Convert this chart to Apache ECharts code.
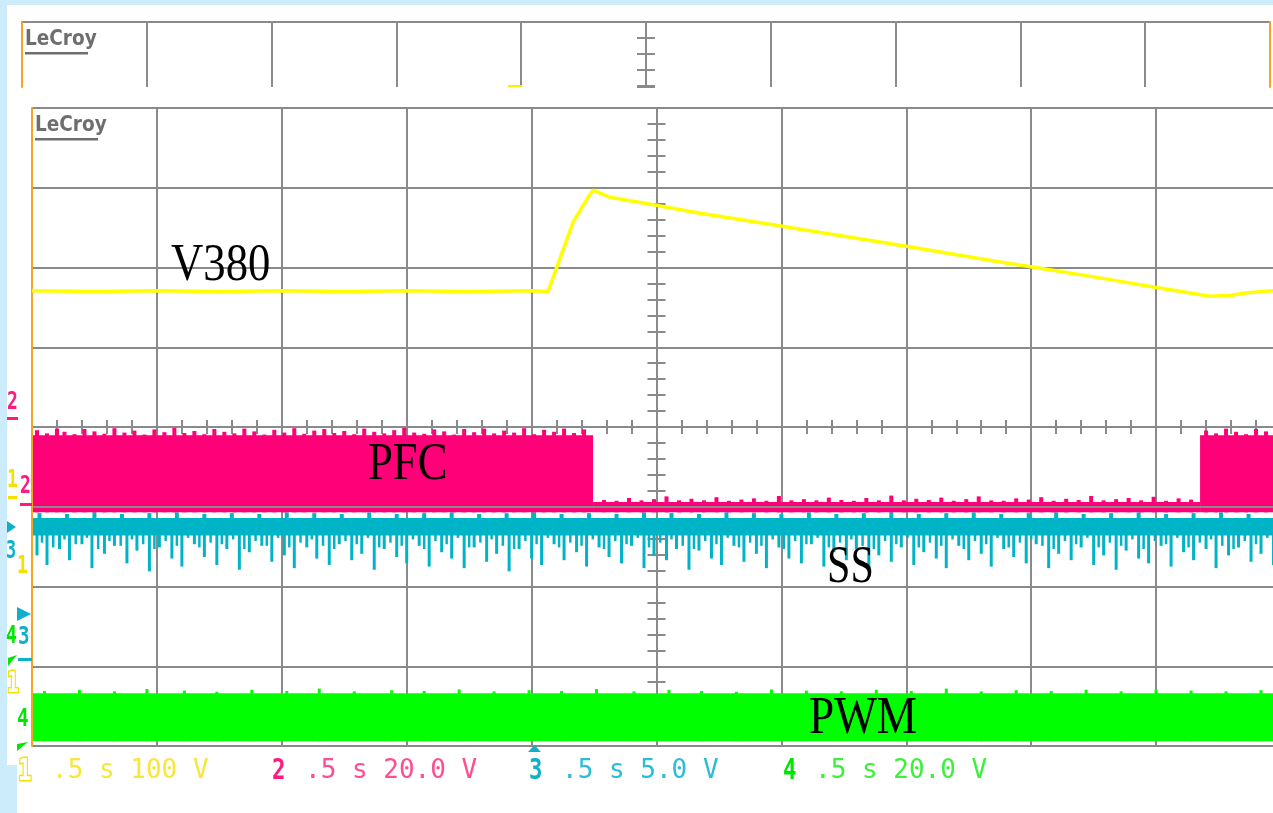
<!DOCTYPE html>
<html>
<head>
<meta charset="utf-8">
<script src="https://cdn.jsdelivr.net/npm/echarts@6/dist/echarts.min.js"></script>
<style>
  html, body { margin: 0; padding: 0; width: 1273px; height: 813px; overflow: hidden; background: #ccecfc; }
  .sheet { position: absolute; background: #ffffff; }
  #chart { position: absolute; left: 0; top: 0; width: 1290px; height: 813px; }
</style>
</head>
<body>
<div class="sheet" style="left:7px;top:5px;width:1266px;height:760px"></div>
<div class="sheet" style="left:17px;top:765px;width:1256px;height:48px"></div>
<div id="chart"></div>
<script>
// ---- scope settings ----
const timePerDiv = 0.5;                    // s/div
const channelIds = ['1', '2', '3', '4'];
const voltsPerDiv = [100, 20, 5, 20];      // V/div per channel
const groundDiv = [-2.1, -1.07, -2.65, -3.94]; // ground marker, divisions from centre
const traceLabels = ['V380', 'PFC', 'SS', 'PWM'];

// ---- channel 1: V380 bus voltage (s, V) ----
const v380Time = [0, 0.25, 0.5, 0.75, 1.0, 1.25, 1.5, 1.75, 2.0, 2.066, 2.102, 2.166, 2.226, 2.246,
  2.314, 2.498, 2.674, 2.998, 3.075, 3.475, 3.875, 3.999, 4.275, 4.5, 4.636, 4.716, 4.796, 4.856, 4.968, 5.0];
const v380Volts = [381, 380, 381, 380, 381, 380, 381, 380, 381, 380, 411, 467, 498, 507,
  498, 488, 478, 462, 458, 438, 417, 411, 397, 385, 378, 374, 375, 378, 381, 381];

// ---- channel 2: PFC gate drive, switching envelope [tStart, tEnd, Vlow, Vhigh] ----
const pfcLevels = [[0, 2.246, 0, 19.3], [2.246, 4.676, 0, 2.6], [4.676, 5, 0, 19.3]];
// peaks above the envelope [t, V]
const pfcSpikes = [
  [0.02,20.6],[0.06,19.8],[0.10,21.0],[0.13,20.2],[0.17,19.6],[0.21,20.9],[0.25,20.3],[0.29,19.7],
  [0.33,21.1],[0.37,20.0],[0.41,20.5],[0.45,19.5],[0.49,20.8],[0.53,20.1],[0.57,21.2],[0.61,19.9],
  [0.65,20.4],[0.69,19.6],[0.73,20.9],[0.77,20.2],[0.81,19.8],[0.85,21.0],[0.89,20.3],[0.93,19.5],
  [0.97,20.7],[1.01,20.0],[1.05,21.1],[1.09,19.7],[1.13,20.5],[1.17,20.9],[1.21,19.9],[1.25,20.4],
  [1.29,19.6],[1.33,21.0],[1.37,20.2],[1.41,19.8],[1.45,20.6],[1.49,21.2],[1.53,20.0],[1.57,19.7],
  [1.61,20.8],[1.65,20.3],[1.69,19.5],[1.73,20.9],[1.77,20.1],[1.81,21.0],[1.85,19.8],[1.89,20.5],
  [1.93,20.0],[1.97,21.1],[2.01,19.6],[2.05,20.7],[2.09,20.2],[2.13,21.0],[2.17,19.9],[2.21,20.8],
  [2.29,3.1],[2.34,2.9],[2.39,3.6],[2.44,3.0],[2.49,3.3],[2.54,4.0],[2.59,3.0],[2.64,3.4],
  [2.69,3.0],[2.74,3.8],[2.79,2.9],[2.84,3.2],[2.89,3.5],[2.94,2.9],[2.99,4.1],[3.04,3.0],
  [3.09,3.3],[3.14,3.0],[3.19,3.7],[3.24,3.1],[3.29,2.9],[3.34,3.6],[3.39,3.0],[3.44,4.2],
  [3.49,3.0],[3.54,3.4],[3.59,3.1],[3.64,3.7],[3.69,2.9],[3.74,3.3],[3.79,4.0],[3.84,3.0],
  [3.89,2.9],[3.94,3.5],[3.99,3.2],[4.04,3.8],[4.09,2.9],[4.14,3.4],[4.19,3.1],[4.24,4.1],
  [4.29,3.0],[4.34,3.3],[4.39,3.6],[4.44,3.0],[4.49,3.9],[4.54,2.9],[4.59,3.5],[4.64,3.2],
  [4.70,20.5],[4.74,19.8],[4.78,21.0],[4.82,20.2],[4.86,19.6],[4.90,20.9],[4.94,20.3],[4.98,19.9]
];

// ---- channel 3: SS pin, noise band, upward jags and downward glitches ----
const ssLevels = [[0, 5, 6.45, 7.55]];
const ssUpJags = [
  [0.03,7.85],[0.14,7.8],[0.25,7.9],[0.36,7.8],[0.47,7.85],[0.58,7.9],[0.69,7.8],[0.80,7.85],
  [0.91,7.8],[1.02,7.9],[1.13,7.85],[1.24,7.8],[1.35,7.9],[1.46,7.8],[1.57,7.85],[1.68,7.9],
  [1.79,7.8],[1.90,7.85],[2.01,7.9],[2.12,7.8],[2.23,7.85],[2.34,7.8],[2.45,7.9],[2.56,7.85],
  [2.67,7.8],[2.78,7.9],[2.89,7.85],[3.00,7.8],[3.11,7.9],[3.22,7.8],[3.33,7.85],[3.44,7.9],
  [3.55,7.8],[3.66,7.85],[3.77,7.9],[3.88,7.8],[3.99,7.85],[4.10,7.9],[4.21,7.8],[4.32,7.85],
  [4.43,7.9],[4.54,7.8],[4.65,7.85],[4.76,7.9],[4.87,7.8],[4.98,7.85]
];
const ssSpikes = [
  [0.02,5.2],[0.06,4.6],[0.11,5.6],[0.15,4.9],[0.20,5.9],[0.24,4.4],[0.29,5.3],[0.33,5.8],[0.38,4.7],
  [0.42,5.5],[0.47,4.2],[0.51,5.7],[0.56,5.0],[0.60,4.5],[0.65,5.9],[0.69,5.1],[0.74,4.6],[0.78,5.6],
  [0.83,4.3],[0.87,5.4],[0.92,5.8],[0.96,4.8],[1.01,5.2],[1.05,4.4],[1.10,5.7],[1.14,5.0],[1.19,4.6],
  [1.23,5.9],[1.28,4.9],[1.32,5.3],[1.37,4.3],[1.41,5.6],[1.46,5.1],[1.50,4.7],[1.55,5.8],[1.59,4.5],
  [1.64,5.4],[1.68,5.0],[1.73,4.4],[1.77,5.7],[1.82,4.8],[1.86,5.3],[1.91,4.2],[1.95,5.6],[2.00,5.0],
  [2.04,4.6],[2.09,5.9],[2.13,4.9],[2.18,5.4],[2.22,4.5],[2.27,5.7],[2.31,5.1],[2.36,4.7],[2.40,5.8],
  [2.45,4.4],[2.49,5.2],[2.54,4.9],[2.58,5.6],[2.63,4.3],[2.67,5.5],[2.72,5.0],[2.76,4.6],[2.81,5.8],
  [2.85,4.8],[2.90,5.3],[2.94,4.4],[2.99,5.7],[3.03,5.0],[3.08,4.7],[3.12,5.9],[3.17,4.5],[3.21,5.4],
  [3.26,4.9],[3.30,5.6],[3.35,4.3],[3.39,5.2],[3.44,4.8],[3.48,5.7],[3.53,4.6],[3.57,5.4],[3.62,5.0],
  [3.66,4.4],[3.71,5.8],[3.75,4.9],[3.80,5.3],[3.84,4.5],[3.89,5.6],[3.93,5.1],[3.98,4.7],[4.02,5.9],
  [4.07,4.4],[4.11,5.3],[4.16,4.9],[4.20,5.7],[4.25,4.6],[4.29,5.2],[4.34,4.3],[4.38,5.5],[4.43,5.0],
  [4.47,4.7],[4.52,5.8],[4.56,4.5],[4.61,5.4],[4.65,4.9],[4.70,5.6],[4.74,4.4],[4.79,5.2],[4.83,5.7],
  [4.88,4.8],[4.92,5.3],[4.97,4.6]
];
const ssShortGlitches = [
  [0.04,6.0],[0.085,5.7],[0.13,6.2],[0.175,5.9],[0.22,6.3],[0.265,5.6],[0.31,6.1],[0.355,5.8],
  [0.40,6.2],[0.445,5.9],[0.49,5.6],[0.535,6.1],[0.58,5.8],[0.625,6.3],[0.67,5.7],[0.715,6.0],
  [0.76,5.9],[0.805,6.2],[0.85,5.6],[0.895,6.1],[0.94,5.8],[0.985,6.3],[1.03,5.7],[1.075,6.0],
  [1.12,6.2],[1.165,5.8],[1.21,5.6],[1.255,6.1],[1.30,5.9],[1.345,6.3],[1.39,5.7],[1.435,6.0],
  [1.48,5.8],[1.525,6.2],[1.57,5.6],[1.615,6.1],[1.66,5.9],[1.705,6.3],[1.75,5.7],[1.795,6.0],
  [1.84,6.2],[1.885,5.8],[1.93,5.6],[1.975,6.1],[2.02,5.9],[2.065,6.3],[2.11,5.7],[2.155,6.0],
  [2.20,5.8],[2.245,6.2],[2.29,5.6],[2.335,6.1],[2.38,5.9],[2.425,6.3],[2.47,5.7],[2.515,6.0],
  [2.56,6.2],[2.605,5.8],[2.65,5.6],[2.695,6.1],[2.74,5.9],[2.785,6.3],[2.83,5.7],[2.875,6.0],
  [2.92,5.8],[2.965,6.2],[3.01,5.6],[3.055,6.1],[3.10,5.9],[3.145,6.3],[3.19,5.7],[3.235,6.0],
  [3.28,6.2],[3.325,5.8],[3.37,5.6],[3.415,6.1],[3.46,5.9],[3.505,6.3],[3.55,5.7],[3.595,6.0],
  [3.64,5.8],[3.685,6.2],[3.73,5.6],[3.775,6.1],[3.82,5.9],[3.865,6.3],[3.91,5.7],[3.955,6.0],
  [4.00,6.2],[4.045,5.8],[4.09,5.6],[4.135,6.1],[4.18,5.9],[4.225,6.3],[4.27,5.7],[4.315,6.0],
  [4.36,5.8],[4.405,6.2],[4.45,5.6],[4.495,6.1],[4.54,5.9],[4.585,6.3],[4.63,5.7],[4.675,6.0],
  [4.72,6.2],[4.765,5.8],[4.81,5.6],[4.855,6.1],[4.90,5.9],[4.945,6.3],[4.99,5.7]
];

// ---- channel 4: PWM switching envelope ----
const pwmLevels = [[0, 5, 0, 12.0]];
const pwmSpikes = [
  [0.05,12.6],[0.19,12.9],[0.33,12.5],[0.46,13.1],[0.61,12.7],[0.74,12.4],[0.88,12.9],[1.02,12.6],
  [1.15,13.2],[1.29,12.5],[1.44,12.8],[1.57,12.6],[1.71,13.0],[1.85,12.5],[1.99,12.8],[2.12,12.6],
  [2.26,13.1],[2.41,12.5],[2.55,12.9],[2.68,12.6],[2.82,12.4],[2.96,13.0],[3.10,12.7],[3.24,12.5],
  [3.38,12.9],[3.52,12.6],[3.66,13.2],[3.80,12.5],[3.94,12.8],[4.08,12.6],[4.22,12.9],[4.36,12.5],
  [4.50,13.0],[4.64,12.7],[4.78,12.5],[4.92,12.8]
];

// ---- drawing ----
const DIVS_X = 10, DIVS_Y = 8;
const T_MAX = DIVS_X * timePerDiv;
const GRAY = '#8a8a8a', ORANGE = '#f5a523';
const traceColors = ['#ffff00', '#ff0078', '#00b4c8', '#00ff00'];
const footColors = ['#f8e63a', '#ff4d8f', '#2bbdd6', '#3cf03c'];
const digitColors = ['#f5e000', '#ff1a80', '#0fb0c8', '#00e600'];

const chart = echarts.init(document.getElementById('chart'));

function channelAxis(i) {
  const s = voltsPerDiv[i], g = groundDiv[i];
  return { type: 'value', gridIndex: 0, show: false, min: (-DIVS_Y / 2 - g) * s, max: (DIVS_Y / 2 - g) * s };
}

function bandRender(params, api) {
  const a = api.coord([api.value(0), api.value(3)]);
  const b = api.coord([api.value(1), api.value(2)]);
  return { type: 'rect', shape: { x: a[0], y: a[1], width: b[0] - a[0], height: b[1] - a[1] },
           style: { fill: api.visual('color') } };
}
function spikeRender(base, w) {
  return function (params, api) {
    const a = api.coord([api.value(0), base]);
    const b = api.coord([api.value(0), api.value(1)]);
    return { type: 'rect', shape: { x: a[0] - w / 2, y: Math.min(a[1], b[1]), width: w, height: Math.abs(b[1] - a[1]) },
             style: { fill: api.visual('color') } };
  };
}
function bandSeries(data, yIdx, color) {
  return { type: 'custom', xAxisIndex: 0, yAxisIndex: yIdx, data, renderItem: bandRender,
           encode: { x: [0, 1], y: [2, 3] }, itemStyle: { color }, silent: true, z: 2 };
}
function spikeSeries(data, yIdx, color, base, w) {
  return { type: 'custom', xAxisIndex: 0, yAxisIndex: yIdx, data, renderItem: spikeRender(base, w),
           encode: { x: 0, y: 1 }, itemStyle: { color }, silent: true, z: 2 };
}

const hidden = { axisLabel: { show: false }, axisTick: { show: false }, splitLine: { show: false }, axisLine: { show: false } };
function centreAxis(extra, inside, len, minor) {
  return Object.assign({
    type: 'value', axisLabel: { show: false }, splitLine: { show: false },
    axisLine: { show: true, lineStyle: { color: GRAY, width: 2 } },
    axisTick: { show: true, inside, length: len, lineStyle: { color: GRAY, width: 2 } },
    minorTick: { show: minor, splitNumber: 5, length: len, lineStyle: { color: GRAY, width: 2 } }
  }, extra);
}

const xAxes = [
  // main time axis with vertical graticule
  { type: 'value', gridIndex: 0, min: 0, max: T_MAX, interval: timePerDiv, ...hidden,
    splitLine: { show: true, lineStyle: { color: GRAY, width: 2 } } },
  centreAxis({ gridIndex: 0, min: 0, max: T_MAX, interval: timePerDiv, position: 'bottom', offset: -319 }, true, 7, true),
  centreAxis({ gridIndex: 0, min: 0, max: T_MAX, interval: timePerDiv, position: 'bottom', offset: -319 }, false, 7, true),
  // upper screen graticule
  { type: 'value', gridIndex: 1, min: 0, max: T_MAX, interval: timePerDiv, position: 'top', ...hidden,
    axisLine: { show: true, lineStyle: { color: GRAY, width: 2 } },
    splitLine: { show: true, lineStyle: { color: GRAY, width: 2 } } }
];

const topSpan = 65 / 79.75;
const yAxes = [
  { type: 'value', gridIndex: 0, min: -DIVS_Y / 2, max: DIVS_Y / 2, interval: 1, ...hidden, z: 3,
    axisLine: { show: true, lineStyle: { color: ORANGE, width: 2 } },
    splitLine: { show: true, lineStyle: { color: GRAY, width: 2 } } },
  centreAxis({ gridIndex: 0, min: -DIVS_Y / 2, max: DIVS_Y / 2, interval: 1, position: 'left', offset: -624.5 }, true, 9, true),
  centreAxis({ gridIndex: 0, min: -DIVS_Y / 2, max: DIVS_Y / 2, interval: 1, position: 'left', offset: -624.5 }, false, 9, true),
  channelAxis(0), channelAxis(1), channelAxis(2), channelAxis(3),
  { type: 'value', gridIndex: 1, inverse: true, min: 0, max: topSpan, ...hidden, z: 3,
    axisLine: { show: true, lineStyle: { color: ORANGE, width: 2 } } },
  centreAxis({ gridIndex: 1, inverse: true, min: 0, max: topSpan, interval: 0.2, position: 'left', offset: -624 }, true, 9, false),
  centreAxis({ gridIndex: 1, inverse: true, min: 0, max: topSpan, interval: 0.2, position: 'left', offset: -624 }, false, 9, false),
  { type: 'value', gridIndex: 1, inverse: true, min: 0, max: topSpan, position: 'right', ...hidden, z: 3,
    axisLine: { show: true, lineStyle: { color: ORANGE, width: 2 } } }
];

const series = [
  bandSeries(pwmLevels, 6, traceColors[3]),
  spikeSeries(pwmSpikes, 6, traceColors[3], 0, 3),
  bandSeries(ssLevels, 5, traceColors[2]),
  spikeSeries(ssUpJags, 5, traceColors[2], 7.0, 4),
  spikeSeries(ssSpikes, 5, traceColors[2], 6.6, 3),
  spikeSeries(ssShortGlitches, 5, traceColors[2], 6.6, 2.5),
  bandSeries(pfcLevels, 4, traceColors[1]),
  spikeSeries(pfcSpikes, 4, traceColors[1], 0, 4),
  { type: 'line', xAxisIndex: 0, yAxisIndex: 3, data: v380Time.map((t, i) => [t, v380Volts[i]]),
    showSymbol: false, silent: true, z: 3, lineStyle: { color: traceColors[0], width: 3.5 } }
];

// ---- annotation texts ----
function txt(text, x, y, font, fill, extra) {
  return Object.assign({ type: 'text', x, y, silent: true, z: 50,
    style: { text, font, fill, verticalAlign: 'middle' } }, extra || {});
}
function rect(x, y, w, h, fill) {
  return { type: 'rect', silent: true, z: 50, shape: { x, y, width: w, height: h }, style: { fill } };
}
function poly(points, fill) {
  return { type: 'polygon', silent: true, z: 50, shape: { points }, style: { fill } };
}

const serif = '52px "Liberation Serif", "Times New Roman", serif';
const mono = '26px "DejaVu Sans Mono", monospace';
const monoBold = 'bold 28px "DejaVu Sans Mono", monospace';
const markFont = 'bold 24px "DejaVu Sans Mono", monospace';
const logoFont = 'bold 21px "DejaVu Sans", sans-serif';

const footer = channelIds.map((id, i) => {
  const v = voltsPerDiv[i];
  const vs = v >= 100 ? String(v) : v.toFixed(1);
  return '.5 s ' + vs + ' V';
});
const footX = [52, 305, 562, 815];
const digitX = [18, 272, 529, 783];

const graphics = [
  // LeCroy logos
  txt('LeCroy', 25, 40, logoFont, '#6e6e6e', { scaleX: 0.88 }), rect(25, 52, 63, 2.5, '#6e6e6e'),
  txt('LeCroy', 35, 126, logoFont, '#6e6e6e', { scaleX: 0.88 }), rect(35, 138, 63, 2.5, '#6e6e6e'),
  rect(508, 85, 14, 2, '#ffee00'),
  // trace names
  txt(traceLabels[0], 171, 266, serif, '#000', { scaleX: 0.86 }),
  txt(traceLabels[1], 368, 465, serif, '#000', { scaleX: 0.86 }),
  txt(traceLabels[2], 827, 568, serif, '#000', { scaleX: 0.81 }),
  txt(traceLabels[3], 809, 719, serif, '#000', { scaleX: 0.87 }),
  // left-edge channel markers
  txt('2', 7, 403, markFont, digitColors[1], { scaleX: 0.75 }), rect(7, 417, 11, 3, digitColors[1]),
  txt('1', 7, 481, markFont, digitColors[0], { scaleX: 0.75 }), rect(8, 496, 9, 3, digitColors[0]),
  txt('2', 20, 487, markFont, digitColors[1], { scaleX: 0.75 }), rect(20, 503, 12, 3, digitColors[1]),
  poly([[7, 521], [16, 527], [7, 533]], digitColors[2]),
  txt('3', 6, 552, markFont, digitColors[2], { scaleX: 0.7 }),
  txt('1', 17, 567, markFont, digitColors[0], { scaleX: 0.75 }),
  poly([[17, 607], [31, 614], [17, 621]], digitColors[2]),
  txt('4', 6, 637, markFont, digitColors[3], { scaleX: 0.75 }),
  txt('3', 18, 638, markFont, digitColors[2], { scaleX: 0.8 }), rect(18, 658, 14, 3, digitColors[2]),
  poly([[8, 666], [8, 658], [17, 655]], digitColors[3]),
  { type: 'text', x: 7, y: 685, silent: true, z: 50, scaleX: 0.7,
    style: { text: '1', font: 'bold 28px "DejaVu Sans Mono", monospace', fill: '#ffffff',
             stroke: digitColors[0], lineWidth: 3, verticalAlign: 'middle' } },
  txt('4', 17, 720, markFont, digitColors[3], { scaleX: 0.8 }),
  poly([[17, 751], [17, 744], [28, 742]], digitColors[3]),
  // footer: channel settings
  poly([[528, 752], [534.5, 745], [541, 752]], digitColors[2])
];
channelIds.forEach((id, i) => {
  if (i === 0) {
    graphics.push({ type: 'text', x: digitX[i], y: 772, silent: true, z: 50, scaleX: 0.75,
      style: { text: id, font: 'bold 30px "DejaVu Sans Mono", monospace', fill: '#ffffff',
               stroke: digitColors[i], lineWidth: 3, verticalAlign: 'middle' } });
  } else {
    graphics.push(txt(id, digitX[i], 772, monoBold, digitColors[i], { scaleX: 0.8 }));
  }
  graphics.push(txt(footer[i], footX[i], 771, mono, footColors[i]));
});

chart.setOption({
  animation: false,
  backgroundColor: 'transparent',
  grid: [
    { left: 32, top: 108, width: 1249, height: 638, show: false },
    { left: 22, top: 22, width: 1248, height: 65, show: false }
  ],
  xAxis: xAxes,
  yAxis: yAxes,
  series,
  graphic: { elements: graphics }
});
</script>
</body>
</html>
